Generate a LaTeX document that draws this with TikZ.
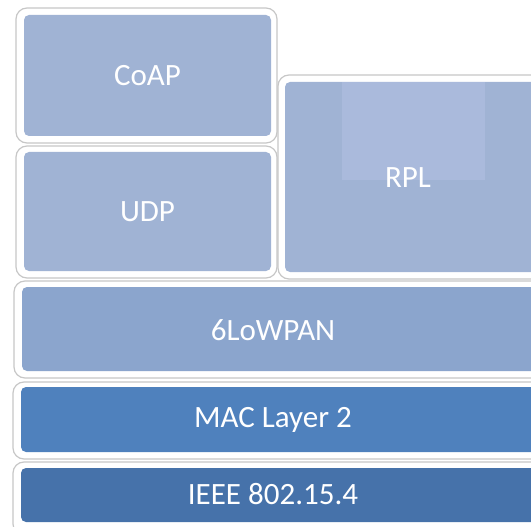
\documentclass[tikz,border=0pt]{standalone}
\usepackage{fontspec}
\setmainfont{Carlito}
\definecolor{upperblue}{HTML}{A0B3D4}
\definecolor{rplhigh}{HTML}{AABADC}
\definecolor{lowpanblue}{HTML}{8BA5CD}
\definecolor{macblue}{HTML}{4F81BD}
\definecolor{phyblue}{HTML}{4672AA}
\tikzset{
  frame/.style={draw=black!22, line width=1.2pt, fill=white, rounded corners=11pt},
  layerblk/.style={rectangle, rounded corners=5pt, inner sep=0pt, outer sep=0pt},
  layertext/.style={text=white, font=\fontsize{31}{31}\selectfont, inner sep=0pt}
}
\begin{document}
\begin{tikzpicture}[x=1pt,y=-1pt]
\useasboundingbox (0,0) rectangle (531,527);
\fill[white] (0,0) rectangle (531,527);
\clip (0,0) rectangle (531,527);

% white frames with a thin grey edge
\draw[frame] (16,8) rectangle (277,143);
\draw[frame] (16,146) rectangle (277,278);
\draw[frame] (278,75) rectangle (550,279);
\draw[frame] (14,281) rectangle (550,378);
\draw[frame] (13,382) rectangle (550,459);
\draw[frame] (13,462) rectangle (550,535);

% coloured layer blocks
\node[layerblk, fill=upperblue, minimum width=247pt, minimum height=121pt] (coap) at (147.5,75.5) {};
\node[layerblk, fill=upperblue, minimum width=247pt, minimum height=119pt] (udp) at (147.5,211.5) {};
\node[layerblk, fill=upperblue, minimum width=256pt, minimum height=190pt,
      path picture={\fill[rplhigh, sharp corners] ([xshift=57pt]path picture bounding box.north west)
        rectangle ([xshift=200pt,yshift=-98pt]path picture bounding box.north west);}] (rpl) at (413,177) {};
\node[layerblk, fill=lowpanblue, minimum width=530pt, minimum height=84pt] (lowpan) at (287,329) {};
\node[layerblk, fill=macblue, minimum width=530pt, minimum height=65pt] (mac) at (286,419.5) {};
\node[layerblk, fill=phyblue, minimum width=530pt, minimum height=54pt] (phy) at (286,495) {};

% labels
\node[layertext] (coaplbl) at (coap) {CoAP};
\node[layertext] (udplbl) at (udp) {UDP};
\node[layertext] (rpllbl) at (408,178) {RPL};
\node[layertext] (lowpanlbl) at (273,330) {6LoWPAN};
\node[layertext] (maclbl) at (273,420) {MAC Layer 2};
\node[layertext] (phylbl) at (273,494) {IEEE 802.15.4};
\end{tikzpicture}
\end{document}
